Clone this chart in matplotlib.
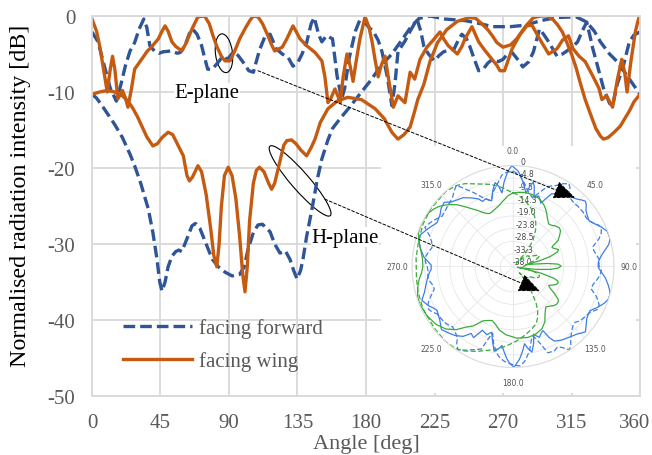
import numpy as np
import matplotlib
matplotlib.use("Agg")
import matplotlib.pyplot as plt
from matplotlib.patches import Ellipse, ConnectionPatch, Rectangle
from matplotlib.transforms import ScaledTranslation

plt.rcParams["font.family"] = ["Liberation Serif", "DejaVu Serif"]
plt.rcParams["axes.unicode_minus"] = False

# E-plane, antenna facing forward (dB vs angle)
ef_deg = [0, 4, 8, 12, 16, 19, 22, 25, 28, 31, 34, 36, 38, 41, 44, 47, 52, 56, 58, 61, 64, 66,
          69, 72, 74, 76, 79, 82, 86, 89, 93, 96, 99, 103, 106, 110, 114, 117, 121, 125, 129, 132,
          135, 138, 141, 144, 146, 149, 151, 154, 158, 161, 164, 166, 169, 173, 176, 179, 182, 185,
          188, 190.5, 194, 197, 199, 201, 205.6, 209, 211, 213.5, 216, 218, 221, 225, 228, 231, 235,
          238, 241, 243, 246, 248, 251, 254, 257, 260, 263, 267, 270, 273, 276, 280, 283, 287, 290,
          294, 297, 300, 305.5, 309, 312, 316, 319, 322, 325, 327, 329, 332, 336, 340, 342, 345,
          349, 353, 356, 360]
ef_db = [-2.1, -3.4, -6.5, -9.5, -11.2, -9, -6.5, -4.6, -3.5, -1.7, -0.4, -1.5, -3.9, -4.6, -4.9,
         -4.7, -4.6, -4.9, -4.8, -3.9, -2.3, -1.7, -2.4, -3.9, -5.5, -7, -7, -6.3, -5.3, -5.7, -4.7,
         -5.2, -6, -7.2, -7.4, -4.5, -2.5, -2.4, -4.3, -5, -5.5, -6.6, -6.2, -5, -3.5, -1, -0.2, -2.5,
         -3.4, -2.6, -3, -7.9, -10.9, -9.5, -5.5, -2, -0.5, -0.8, -1.5, -2.1, -3.2, -4.7, -8, -11.8,
         -9, -4.7, -3.3, -2, -1.3, -0.4, -2, -4, -5, -5.9, -5.2, -4.7, -4.5, -4.3, -3, -2.4, -3,
         -3.9, -5.6, -7.2, -7, -6.2, -5.7, -6, -5.7, -5, -4.8, -5.8, -6.7, -6, -4.7, -1.7, -2.5,
         -3.4, -5.3, -5, -4.6, -4, -3.4, -2, -0.8, -2.5, -4.3, -6.5, -9.5, -11.5, -11.8, -9, -6.6,
         -3.4, -2.5, -2.1]

# E-plane, antenna facing wing
ew_deg = [0, 3, 5, 8, 10, 12, 13.5, 15, 17, 20, 22, 23.6, 26, 28, 31.5, 34, 36, 39.4, 43.6, 46, 48,
          50, 52.5, 55, 59, 62, 65.7, 69.6, 74, 77, 79.5, 82, 85, 87.4, 90.7, 94, 97, 101, 104,
          106, 109, 112, 115.6, 118, 120, 125, 128, 132, 134, 136.6, 141, 146.5, 151, 153, 155,
          157, 159.6, 161.5, 163, 165, 167.5, 169.5, 171.5, 173.5, 176, 179.4, 182, 184, 186, 188,
          190, 192.5, 195, 198, 201, 203.5, 205.6, 209, 212, 215.5, 220, 224, 228.6, 231, 234,
          240, 243, 245, 249.6, 254, 258, 262, 266, 268, 271, 276, 281, 285.6, 289, 294, 300,
          305.5, 309, 313, 316, 320, 324, 329, 333, 335, 338, 342, 345, 348, 350, 351.5, 354, 357,
          359, 360]
ew_db = [-0.4, -2, -3.9, -7.5, -10, -7, -5.3, -7, -10.9, -9.8, -10.8, -12, -9.5, -7, -6, -5.3,
         -4.7, -4, -3, -2, -1.3, -2, -3.4, -4, -4.6, -3.5, -1.7, -0.1, 0, -1, -2.6, -4, -5.3, -5.9,
         -5.9, -4.5, -3, -1.5, -0.5, 0, -0.1, -1, -2.6, -3.8, -4.6, -4.1, -3, -1.3, -2, -3, -3.9,
         -4.8, -5.9, -8, -11.4, -10.8, -9.6, -10.5, -11.4, -8, -5, -6.5, -8.6, -6, -3, -0.1, -1.5,
         -3.4, -5.8, -8, -6.5, -5.3, -8.5, -12, -10.5, -11, -11.4, -7.4, -8.3, -5.7, -4.1, -3.2,
         -2.1, -3, -3.9, -5, -4, -3, -1.4, -3.4, -4.5, -5.5, -6.5, -7.2, -7.2, -4.3, -2.5, -1.3,
         -1.2, -3, -5, -4.3, -3.2, -2.6, -4.3, -5.3, -6, -7.9, -9.5, -11, -10.5, -12, -8.5, -5.7,
         -7.5, -10, -6, -2, -0.4, 0]

# H-plane, antenna facing forward
hf_deg = [0, 3, 6.6, 10, 15, 20, 25, 28, 32, 37, 40, 42.7, 44.5, 46, 48, 50, 52.5, 55, 57, 59,
          62, 65.7, 68, 71, 75, 79, 83, 87.4, 92, 97, 100, 102.5, 106, 109, 112, 115, 117, 120,
          123.5, 127, 130, 132.5, 134.7, 137, 138.6, 141, 144.5, 148, 151, 155, 158, 163, 170,
          177, 183, 190, 197, 203, 210, 215, 222, 232, 245, 255, 263, 275, 285, 295, 305, 318,
          325, 330, 334, 340, 345, 352, 360]
hf_db = [-10.3, -10.8, -11.8, -12.8, -14.3, -16, -18.2, -19.7, -22, -25.4, -28.5, -32, -35, -36.2,
         -35, -33, -31.6, -31, -30.8, -31, -29.5, -27.6, -27.3, -28, -30, -32, -33, -33.7, -34.2,
         -34, -33, -30.7, -28.5, -27.5, -27.4, -28, -28.4, -30, -31.2, -30.9, -32, -33.5, -34.6,
         -33.5, -32, -29, -25.4, -21.5, -18.8, -16.3, -14.8, -13.5, -11.8, -10, -8.5, -6.5, -5,
         -3.3, -1.3, -0.3, 0, -0.4, -0.6, -1, -1.4, -1.4, -1.2, -0.6, -0.2, -0.1, -0.8, -2, -3.4,
         -5, -6, -8, -10.3]

# H-plane, antenna facing wing
hw_deg = [0, 5, 10, 15, 20, 24, 27, 30, 33, 36, 40, 43, 46, 50, 53, 56, 60, 62.4, 64, 66, 69.6,
          72, 75, 78, 80, 82, 83.5, 85, 87, 89.5, 92, 94.5, 97, 99, 100.5, 102, 103.5, 106, 108,
          110, 113, 116, 118, 120, 123, 126, 128, 131, 134, 137, 141, 144, 146.5, 150, 155, 161,
          168, 177, 186, 192, 197, 201, 205, 209, 212, 214, 218, 222, 227, 233, 240, 248, 252,
          256, 260, 263, 266, 270, 275, 279, 285, 290, 295, 299, 303, 306, 309, 312, 315, 318,
          320.6, 324, 328, 331, 334, 336, 339, 343, 347, 350, 353, 356, 360]
hw_db = [-10.3, -10, -9.8, -10, -10.5, -11.3, -12.2, -13.3, -14.6, -15.9, -17.1, -16.8, -16,
         -15.3, -15.6, -16.8, -18.4, -21, -21.7, -21.2, -19.7, -20.5, -23.5, -28, -31.5, -33, -30,
         -25, -21, -19.9, -21, -24, -29, -34, -36.3, -33, -27, -22, -20.3, -19.9, -20.5, -22,
         -22.8, -22, -19.5, -17, -16.4, -16.3, -16.8, -17.6, -18.4, -17.3, -16.2, -14, -12.2,
         -11.2, -10.7, -11, -12.2, -13.5, -15.3, -16.2, -15.6, -14.6, -12.5, -11, -9, -6, -3.5,
         -1.8, -0.7, -0.2, -0.3, -1, -1.8, -2.6, -3.5, -4.1, -3.8, -3, -1.3, -0.2, 0, 0, -0.5,
         -1.2, -2.1, -3.5, -5, -6.8, -8.7, -11, -13.2, -14.8, -15.8, -16.2, -16, -15.3, -14.5,
         -13.5, -12.5, -11.3, -10.3]

x_ticks = [0, 45, 90, 135, 180, 225, 270, 315, 360]
y_ticks = [0, -10, -20, -30, -40, -50]
r_ticks = [0, -4.75, -9.5, -14.25, -19.0, -23.75, -28.5, -33.25, -38.0]
r_labels = ["0", "-4.8", "-9.5", "-14.3", "-19.0", "-23.8", "-28.5", "-33.3", "-38.0"]
ang_ticks = [0, 45, 90, 135, 180, 225, 270, 315]
ang_labels = ["0.0", "45.0", "90.0", "135.0", "180.0", "225.0", "270.0", "315.0"]

BLUE = "#2f5597"
ORANGE = "#c55a11"
GRAY = "#595959"

fig = plt.figure(figsize=(6.52, 4.56), dpi=100)
ax = fig.add_axes([0.1411, 0.1294, 0.8405, 0.8333])

ax.plot(ef_deg, ef_db, color=BLUE, lw=2.4, dashes=(3.5, 1.5), label="facing forward")
ax.plot(hf_deg, hf_db, color=BLUE, lw=2.4, dashes=(3.5, 1.5))
ax.plot(ew_deg, ew_db, color=ORANGE, lw=2.4, label="facing wing", solid_joinstyle="round")
ax.plot(hw_deg, hw_db, color=ORANGE, lw=2.4, solid_joinstyle="round")

ax.set_xlim(0, 360)
ax.set_ylim(-50, 0)
ax.set_xticks(x_ticks)
ax.set_yticks(y_ticks)
ax.grid(color="#d9d9d9", lw=1.3)
ax.set_axisbelow(True)
for sp in ax.spines.values():
    sp.set_color("#d9d9d9")
    sp.set_linewidth(1.3)
ax.tick_params(length=0, labelsize=15, labelcolor=GRAY)
ax.tick_params(axis="x", pad=12)
ax.tick_params(axis="y", pad=12)
ax.set_xlabel("Angle [deg]", fontsize=16, color=GRAY, labelpad=2)
ax.set_ylabel("Normalised radiation intensity [dB]", fontsize=17.3, color="black")
ax.yaxis.set_label_coords(-0.111, 0.529)

# nudge the last x label so it stays inside the figure
last = ax.get_xticklabels()[-1]
last.set_transform(last.get_transform() + ScaledTranslation(-0.05, 0, fig.dpi_scale_trans))

leg = ax.legend(loc="upper left", bbox_to_anchor=(0.057, 0.205), frameon=False, fontsize=15,
                handlelength=3.3, handletextpad=0.35, labelspacing=0.64, borderpad=0,
                borderaxespad=0)
for t in leg.get_texts():
    t.set_color(GRAY)

# plane labels and highlighted regions
ax.text(75.6, -10.1, "E-plane", fontsize=15, ha="center", va="center",
        bbox=dict(fc="white", ec="none", pad=0.5), zorder=5)
ax.text(166.2, -29.1, "H-plane", fontsize=15, ha="center", va="center",
        bbox=dict(fc="white", ec="none", pad=0.5), zorder=5)

e_ring = Ellipse((0, 0), 0.17, 0.39, angle=7, fill=False, ec="black", lw=0.8,
                 transform=fig.dpi_scale_trans + ScaledTranslation(86.7, -4.9, ax.transData))
h_ring = Ellipse((0, 0), 0.92, 0.18, angle=-49, fill=False, ec="black", lw=0.8,
                 transform=fig.dpi_scale_trans + ScaledTranslation(136.7, -21.7, ax.transData))
ax.add_patch(e_ring)
ax.add_patch(h_ring)

# white panel behind the polar plot
fig.add_artist(Rectangle((0.5844, 0.136), 0.391, 0.5417, transform=fig.transFigure,
                         fc="white", ec="none", zorder=1))

pax = fig.add_axes([0.6319, 0.1919, 0.3098, 0.4430], projection="polar")
pax.set_zorder(2)
pax.set_theta_zero_location("N")
pax.set_theta_direction(-1)
pax.plot(np.deg2rad(ef_deg), ef_db, color="#3d7ee6", lw=0.9, dashes=(4, 2))
pax.plot(np.deg2rad(ew_deg), ew_db, color="#3d7ee6", lw=0.9)
pax.plot(np.deg2rad(hf_deg), hf_db, color="#3aab3a", lw=0.9, dashes=(4, 2))
pax.plot(np.deg2rad(hw_deg), hw_db, color="#3aab3a", lw=0.9)
pax.set_ylim(-38, 0)
pax.set_yticks(r_ticks)
pax.set_yticklabels(r_labels, fontsize=5.5, color="#444444", family="DejaVu Sans")
pax.set_rlabel_position(4)
pax.set_xticks(np.deg2rad(ang_ticks))
pax.set_xticklabels(ang_labels, fontsize=5.5, color="#555555", family="DejaVu Sans")
pax.tick_params(axis="x", pad=0)
pax.grid(color="#e6e6e6", lw=0.6)
pax.spines["polar"].set_color("#dddddd")
pax.spines["polar"].set_linewidth(0.8)

# dotted pointers from the main plot to the polar plot
for start, end in [((109, -7.2), (317.3, -23.9)), ((153, -24.1), (294.3, -36.2))]:
    cp = ConnectionPatch(xyA=start, coordsA=ax.transData, xyB=end, coordsB=ax.transData,
                         arrowstyle="-|>,head_length=0.9,head_width=0.38", mutation_scale=15,
                         color="black", lw=0.7, linestyle=(0, (3, 2)), zorder=3)
    fig.add_artist(cp)

fig.savefig("out.png", dpi=100)
